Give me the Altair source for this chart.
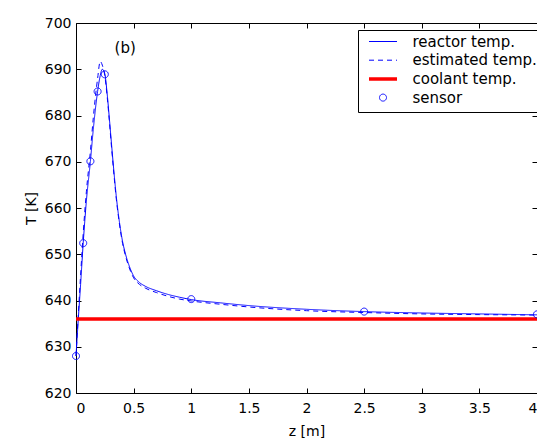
import altair as alt
import pandas as pd

# ---------------- data ----------------
z_grid = [0.0, 0.02, 0.04, 0.0625, 0.09, 0.125, 0.15, 0.1875, 0.21, 0.228, 0.25,
          0.27, 0.29, 0.31, 0.33, 0.35, 0.375, 0.40, 0.43, 0.46, 0.50, 0.55,
          0.60, 0.70, 0.80, 0.90, 1.0, 1.25, 1.5, 2.0, 2.5, 3.0, 3.5, 4.0]
reactor_temp = [628.0, 636.0, 643.5, 652.4, 661.5, 670.1, 677.0, 685.2, 688.6, 690.0, 689.0,
                684.8, 679.2, 673.3, 667.6, 662.4, 657.3, 653.3, 650.0, 647.6, 645.3, 643.9,
                643.1, 642.1, 641.3, 640.7, 640.2, 639.5, 638.9, 638.1, 637.6, 637.3, 637.1, 636.9]
estimated_temp = [628.0, 637.0, 645.5, 654.5, 663.5, 672.3, 679.5, 688.0, 691.7, 690.9, 688.6,
                  684.2, 678.6, 672.6, 667.0, 661.9, 656.9, 652.9, 649.6, 647.2, 644.9, 643.5,
                  642.7, 641.7, 640.9, 640.3, 639.9, 639.2, 638.6, 637.8, 637.4, 637.1, 636.95, 636.85]
coolant_z = [0.0, 4.0]
coolant_temp = [636.0, 636.0]
sensor_z = [0.0, 0.0625, 0.125, 0.1875, 0.25, 1.0, 2.5, 4.0]
sensor_temp = [628.0, 652.4, 670.1, 685.2, 688.9, 640.3, 637.6, 637.0]

series_names = ["reactor temp.", "estimated temp.", "coolant temp.", "sensor"]
series_colors = ["#0000ff", "#0000ff", "#ff0000", "#0000ff"]
series_dash = [[1, 0], [5, 4], [1, 0], [1, 0]]
series_width = [1, 1, 3.5, 1]
series_shape = ["M-1,0H1", "M-1,0H1", "M-1,0H1", "circle"]
series_size = [784, 784, 784, 49]

x_ticks = [0, 0.5, 1, 1.5, 2, 2.5, 3, 3.5, 4]
y_ticks = [620, 630, 640, 650, 660, 670, 680, 690, 700]

ann_z = [0.335]
ann_temp = [694.6]
ann_text = ["(b)"]

# ---------------- tables ----------------
rows = []
for z, t in zip(z_grid, reactor_temp):
    rows.append({"z": z, "T": t, "series": series_names[0]})
for z, t in zip(z_grid, estimated_temp):
    rows.append({"z": z, "T": t, "series": series_names[1]})
for z, t in zip(coolant_z, coolant_temp):
    rows.append({"z": z, "T": t, "series": series_names[2]})
lines_df = pd.DataFrame(rows)
sensor_df = pd.DataFrame({"z": sensor_z, "T": sensor_temp, "series": [series_names[3]] * len(sensor_z)})
ann_df = pd.DataFrame({"z": ann_z, "T": ann_temp, "label": ann_text})

W, H = 461, 370
FONT = "DejaVu Sans"

xscale = alt.Scale(domain=[0, 4], nice=False, zero=False)
yscale = alt.Scale(domain=[620, 700], nice=False, zero=False)


def sc(rng):
    return alt.Scale(type="ordinal", domain=series_names, range=rng)


leg = alt.Legend(title=None, orient="none", legendX=282, legendY=7)


def tick_axis(orient, offset, values):
    return alt.Axis(orient=orient, offset=offset, values=values, labels=False, title=None,
                    domain=False, ticks=True, tickSize=5, tickColor="black", tickWidth=1,
                    grid=False)


lines = alt.Chart(lines_df).mark_line(interpolate="monotone").encode(
    x=alt.X("z:Q", scale=xscale,
            axis=alt.Axis(orient="bottom", values=x_ticks, format="~g", ticks=False,
                          domain=False, grid=False, labelPadding=8, title="z [m]",
                          titleBaseline="alphabetic", titleY=42)),
    y=alt.Y("T:Q", scale=yscale,
            axis=alt.Axis(orient="left", values=y_ticks, format="d", ticks=False,
                          domain=False, grid=False, labelPadding=5, title="T [K]",
                          titlePadding=6)),
    color=alt.Color("series:N", scale=sc(series_colors), legend=leg),
    strokeDash=alt.StrokeDash("series:N", scale=sc(series_dash), legend=leg),
    strokeWidth=alt.StrokeWidth("series:N", scale=sc(series_width), legend=leg),
    detail="series:N",
)

points = alt.Chart(sensor_df).mark_point(filled=False, opacity=1).encode(
    x=alt.X("z:Q", scale=xscale, axis=tick_axis("top", -H, x_ticks)),
    y=alt.Y("T:Q", scale=yscale, axis=tick_axis("right", -W, y_ticks)),
    color=alt.Color("series:N", scale=sc(series_colors), legend=leg),
    shape=alt.Shape("series:N", scale=sc(series_shape), legend=leg),
    size=alt.Size("series:N", scale=sc(series_size), legend=leg),
    strokeDash=alt.StrokeDash("series:N", scale=sc(series_dash), legend=leg),
    strokeWidth=alt.StrokeWidth("series:N", scale=sc(series_width), legend=leg),
)

label = alt.Chart(ann_df).mark_text(align="left", baseline="middle", font=FONT,
                                    fontSize=15, color="black").encode(
    x=alt.X("z:Q", scale=xscale, axis=tick_axis("bottom", -H, x_ticks)),
    y=alt.Y("T:Q", scale=yscale, axis=tick_axis("left", -W, y_ticks)),
    text="label:N",
)

chart = alt.layer(lines, points, label).resolve_axis(
    x="independent", y="independent"
).properties(
    width=W, height=H, autosize="none",
    padding={"left": 68, "top": 15, "right": 0, "bottom": 48},
    background="white",
).configure_view(
    stroke="black", strokeWidth=1
).configure_axis(
    labelFont=FONT, labelFontSize=14, labelColor="black",
    titleFont=FONT, titleFontSize=14, titleFontWeight="normal", titleColor="black",
).configure_legend(
    labelFont=FONT, labelFontSize=15, labelColor="black",
    strokeColor="black", fillColor="white", padding=5.5, clipHeight=12,
    rowPadding=3.7, symbolOffset=3.5, labelOffset=13.5, cornerRadius=0,
)

chart.save("out.html", embed_options={"renderer": "svg", "actions": False})
